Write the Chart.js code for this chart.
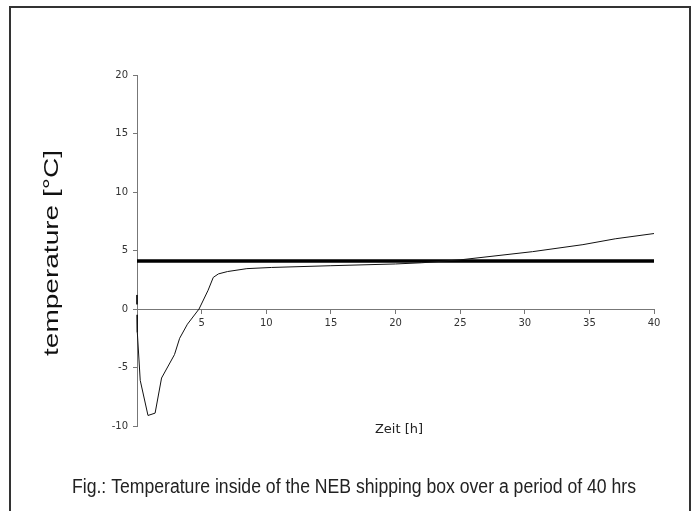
<!DOCTYPE html>
<html>
<head>
<meta charset="utf-8">
<script src="https://cdn.jsdelivr.net/npm/chart.js@4.4.1/dist/chart.umd.min.js"></script>
<style>
  html, body { margin: 0; padding: 0; background: #fff; }
  .wrap { position: relative; width: 696px; height: 511px; overflow: hidden; }
  .frame { position: absolute; left: 9px; top: 6px; width: 678px; height: 520px; border: 2px solid #333; }
  canvas { position: absolute; left: 0; top: 0; }
</style>
</head>
<body>
<div class="wrap">
  <div class="frame"></div>
  <canvas id="tempChart" width="696" height="511"></canvas>
</div>
<script>
// measured temperature inside the box
let timeH = [0, 0, 0, 0, 0, 0.05, 0.25, 0.85, 1.4, 1.9, 2.9, 3.3, 3.9, 4.8, 5.5, 5.9, 6.3, 7, 8.5, 10.4, 15, 20, 22, 25, 30.6, 34.5, 37, 40]
let tempC = [1.2, 0.4, null, -0.5, -1.2, -2, -6.1, -9.1, -8.9, -5.9, -3.9, -2.5, -1.3, 0, 1.6, 2.7, 3.0, 3.2, 3.45, 3.55, 3.7, 3.85, 3.95, 4.2, 4.9, 5.5, 6.0, 6.45]

// reference level line
let refTime = [0, 40]
let refTemp = [4.1, 4.1]

let xTicks = [0, 5, 10, 15, 20, 25, 30, 35, 40]
let yTicks = [-10, -5, 0, 5, 10, 15, 20]

let yTitle = 'temperature [°C]'
let xTitle = 'Zeit [h]'
let caption = 'Fig.: Temperature inside of the NEB shipping box over a period of 40 hrs'

const toPoints = (xs, ys) => xs.map((x, i) => ({ x: x, y: ys[i] }))

const textPlugin = {
  id: 'texts',
  afterDraw(chart) {
    const c = chart.ctx
    c.save()
    c.fillStyle = '#111'
    c.textAlign = 'center'
    c.textBaseline = 'middle'

    // rotated, stretched y title
    c.save()
    c.translate(52, 253)
    c.rotate(-Math.PI / 2)
    c.font = '21px "Liberation Sans", Arial, sans-serif'
    let w = c.measureText(yTitle).width
    c.scale(206 / w, 1)
    c.fillText(yTitle, 0, 0)
    c.restore()

    c.font = '13px "DejaVu Sans", sans-serif'
    c.fillStyle = '#222'
    c.fillText(xTitle, 399, 430)

    c.save()
    c.fillStyle = '#222'
    c.translate(354, 487)
    c.font = '20px "Liberation Sans", Arial, sans-serif'
    let cw = c.measureText(caption).width
    c.scale(564 / cw, 1)
    c.fillText(caption, 0, 0)
    c.restore()

    c.restore()
  }
}

const tickFont = { family: 'DejaVu Sans', size: 10 }

new Chart(document.getElementById('tempChart'), {
  type: 'line',
  data: {
    datasets: [{
      data: toPoints(timeH, tempC),
      borderColor: '#111',
      borderWidth: 1,
      pointRadius: 0,
      spanGaps: false,
      tension: 0,
      clip: false
    }, {
      data: toPoints(refTime, refTemp),
      borderColor: '#000',
      borderWidth: 3.5,
      pointRadius: 0,
      clip: false
    }]
  },
  options: {
    responsive: false,
    animation: false,
    events: [],
    layout: {
      padding: { left: 0, right: 42, top: 75, bottom: 85 }
    },
    plugins: {
      legend: { display: false },
      tooltip: { enabled: false }
    },
    scales: {
      x: {
        type: 'linear',
        position: { y: 0 },
        min: 0,
        max: 40,
        afterBuildTicks: s => { s.ticks = xTicks.map(v => ({ value: v })) },
        ticks: {
          font: tickFont,
          color: '#333',
          padding: 4,
          maxRotation: 0,
          callback: v => v === 0 ? '' : v
        },
        grid: {
          drawOnChartArea: false,
          tickLength: 4,
          color: '#777'
        },
        border: { color: '#777', width: 1 }
      },
      y: {
        type: 'linear',
        min: -10,
        max: 20,
        afterBuildTicks: s => { s.ticks = yTicks.map(v => ({ value: v })) },
        afterFit: s => { s.width = 137 },
        ticks: {
          font: tickFont,
          color: '#333',
          padding: 5
        },
        grid: {
          drawOnChartArea: false,
          tickLength: 4,
          color: '#777'
        },
        border: { color: '#777', width: 1 }
      }
    }
  },
  plugins: [textPlugin]
})
</script>
</body>
</html>
